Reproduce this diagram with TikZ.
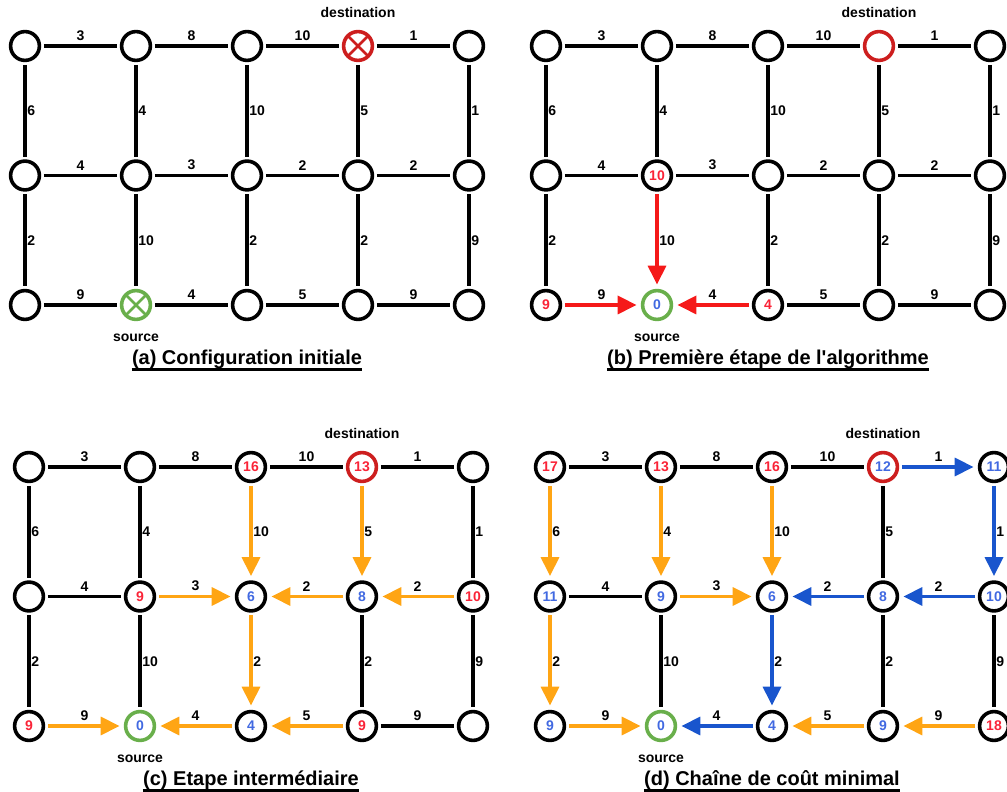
\documentclass[tikz,border=0pt]{standalone}
\usepackage{fontspec}
\setmainfont{Liberation Sans}
\usetikzlibrary{arrows.meta,positioning}
\definecolor{dstred}{RGB}{205,30,30}
\definecolor{srcgreen}{RGB}{105,175,75}
\definecolor{arrred}{RGB}{245,25,25}
\definecolor{arrorange}{RGB}{255,165,20}
\definecolor{arrblue}{RGB}{25,85,205}
\definecolor{numred}{RGB}{250,35,55}
\definecolor{numblue}{RGB}{65,105,225}

\begin{document}
\begin{tikzpicture}[x=0.5pt,y=0.5pt,
  vtx/.style={circle,draw,line width=1.8pt,minimum size=14.4pt,inner sep=0pt,outer sep=2.2pt,font=\bfseries\fontsize{7}{8}\selectfont},
  vr/.style={vtx,text=numred},
  vb/.style={vtx,text=numblue},
  dst/.style={vtx,draw=dstred},
  dstr/.style={dst,text=numred},
  dstb/.style={dst,text=numblue},
  src/.style={vtx,draw=srcgreen,text=numblue},
  xmark/.style={path picture={\draw[#1,line width=1.3pt] (path picture bounding box.north west) -- (path picture bounding box.south east) (path picture bounding box.north east) -- (path picture bounding box.south west);}},
  dstx/.style={dst,xmark=dstred},
  srcx/.style={src,xmark=srcgreen},
  link/.style={line width=1.7pt},
  arr/.style={link,draw=#1,-{Triangle[length=9.5pt,width=9pt]},shorten >=0.8pt},
  wt/.style={font=\bfseries\fontsize{7}{8}\selectfont},
  hw/.style={wt,above,inner sep=2.5pt},
  vw/.style={wt,right,inner sep=1pt},
  lbl/.style={wt,inner sep=1pt},
  captxt/.style={font=\bfseries\fontsize{10}{12}\selectfont,inner xsep=0pt,anchor=base}
]
\useasboundingbox (0,0) rectangle (1007,792);

\foreach \p/\x/\y/\vals in {
  a/25/746/{vtx/{},vtx/{},vtx/{},dstx/{},vtx/{},vtx/{},vtx/{},vtx/{},vtx/{},vtx/{},vtx/{},srcx/{},vtx/{},vtx/{},vtx/{}},
  b/546/746/{vtx/{},vtx/{},vtx/{},dst/{},vtx/{},vtx/{},vr/10,vtx/{},vtx/{},vtx/{},vr/9,src/0,vr/4,vtx/{},vtx/{}},
  c/29/325/{vtx/{},vtx/{},vr/16,dstr/13,vtx/{},vtx/{},vr/9,vb/6,vb/8,vr/10,vr/9,src/0,vb/4,vr/9,vtx/{}},
  d/550/325/{vr/17,vr/13,vr/16,dstb/12,vb/11,vb/11,vb/9,vb/6,vb/8,vb/10,vb/9,src/0,vb/4,vb/9,vr/18}}{
  \foreach \sty/\txt [count=\k from 0] in \vals {
    \pgfmathtruncatemacro\i{mod(\k,5)+1}
    \pgfmathtruncatemacro\j{\k/5+1}
    \node[\sty] (\p\i\j) at ({\x+111*(\i-1)},{\y-129.5*(\j-1)}) {\txt};
  }
}

\foreach \p in {a,b,c,d}{
  \foreach \u/\w/\lab in {11/21/3,21/31/8,31/41/10,41/51/1,12/22/4,22/32/3,32/42/2,42/52/2,13/23/9,23/33/4,33/43/5,43/53/9}
    \path (\p\u) -- (\p\w) node[midway,hw] {\lab};
  \foreach \u/\w/\lab in {11/12/6,12/13/2,21/22/4,22/23/10,31/32/10,32/33/2,41/42/5,42/43/2,51/52/1,52/53/9}
    \path (\p\u) -- (\p\w) node[midway,vw] {\lab};
  \node[lbl,above=3.5pt of \p41] (dst\p) {destination};
  \node[lbl,below=4pt of \p23] (src\p) {source};
}

\foreach \u/\w in {11/21,21/31,31/41,41/51,12/22,22/32,32/42,42/52,13/23,23/33,33/43,43/53,11/12,12/13,21/22,22/23,31/32,32/33,41/42,42/43,51/52,52/53}
  \draw[link] (a\u) -- (a\w);

\foreach \u/\w in {11/21,21/31,31/41,41/51,12/22,22/32,32/42,42/52,33/43,43/53,11/12,12/13,21/22,31/32,32/33,41/42,42/43,51/52,52/53}
  \draw[link] (b\u) -- (b\w);
\foreach \u/\w in {22/23,13/23,33/23}
  \draw[arr=arrred] (b\u) -- (b\w);

\foreach \u/\w in {11/21,21/31,31/41,41/51,12/22,43/53,11/12,12/13,21/22,22/23,42/43,51/52,52/53}
  \draw[link] (c\u) -- (c\w);
\foreach \u/\w in {31/32,41/42,22/32,42/32,52/42,32/33,13/23,33/23,43/33}
  \draw[arr=arrorange] (c\u) -- (c\w);

\foreach \u/\w in {11/21,21/31,31/41,12/22,22/23,41/42,42/43,52/53}
  \draw[link] (d\u) -- (d\w);
\foreach \u/\w in {11/12,21/22,31/32,12/13,22/32,13/23,43/33,53/43}
  \draw[arr=arrorange] (d\u) -- (d\w);
\foreach \u/\w in {41/51,51/52,52/42,42/32,32/33,33/23}
  \draw[arr=arrblue] (d\u) -- (d\w);

\foreach \p/\ctext in {a/{(a) Configuration initiale},b/{(b) Première étape de l\textquotesingle algorithme},c/{(c) Etape intermédiaire},d/{(d) Chaîne de coût minimal}}{
  \node[captxt] (cap\p) at ([yshift=-30pt]\p33) {\ctext};
  \draw[line width=1.1pt] ([yshift=-2.3pt]cap\p.base west) -- ([yshift=-2.3pt]cap\p.base east);
}
\end{tikzpicture}
\end{document}
